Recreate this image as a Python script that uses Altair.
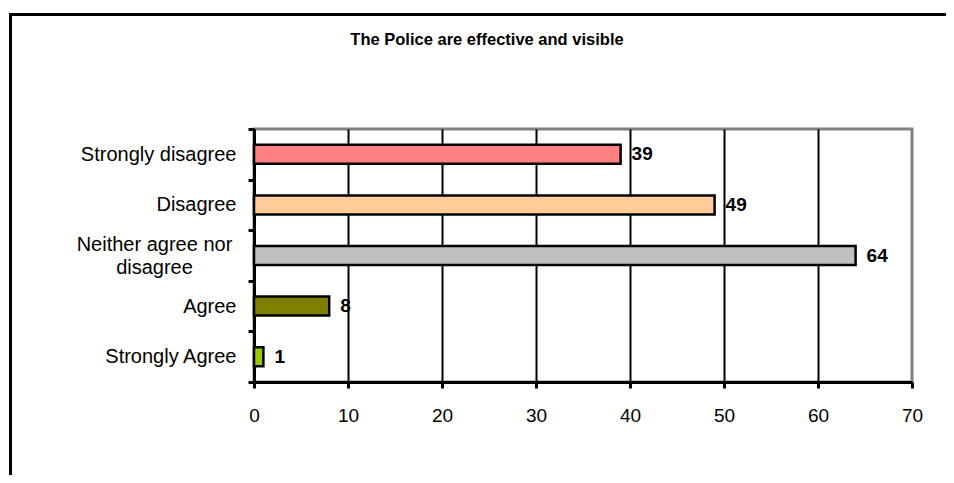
import altair as alt
import pandas as pd

categories = ["Strongly disagree", "Disagree", "Neither agree nor disagree", "Agree", "Strongly Agree"]
values = [39, 49, 64, 8, 1]
colors = ["#FF8080", "#FFCC99", "#C0C0C0", "#808000", "#99CC00"]
x_ticks = [0, 10, 20, 30, 40, 50, 60, 70]
title_text = "The Police are effective and visible"

df = pd.DataFrame({"category": categories, "value": values})

FONT = "Liberation Sans"
WRAP = "datum.value == 'Neither agree nor disagree'"

y_enc = alt.Y(
    "category:N",
    sort=categories,
    scale=alt.Scale(paddingInner=0, paddingOuter=0),
    axis=alt.Axis(
        title=None,
        tickBand="extent",
        tickSize=6,
        tickWidth=3,
        tickColor="black",
        domainColor="black",
        domainWidth=3,
        labelFont=FONT,
        labelFontSize=20,
        labelColor="black",
        labelLimit=300,
        labelLineHeight=23,
        labelAlign=alt.condition(WRAP, alt.value("center"), alt.value("right")),
        labelPadding=alt.condition(WRAP, alt.value(94), alt.value(12)),
        labelOffset=alt.condition(WRAP, alt.value(-11.5), alt.value(0)),
        labelExpr="datum.value == 'Neither agree nor disagree' ? ['Neither agree nor', 'disagree'] : datum.value",
        grid=False,
    ),
)

x_enc = alt.X(
    "value:Q",
    scale=alt.Scale(domain=[0, 70], nice=False),
    axis=alt.Axis(
        title=None,
        values=x_ticks,
        tickSize=6,
        tickWidth=3,
        tickColor="black",
        domainColor="black",
        domainWidth=3,
        labelFont=FONT,
        labelFontSize=19,
        labelColor="black",
        labelPadding=18,
        labelFlush=False,
        grid=True,
        gridWidth=2,
        gridColor=alt.condition("datum.value == 70", alt.value("transparent"), alt.value("black")),
    ),
)

bars = alt.Chart(df).mark_bar(size=19, stroke="black", strokeWidth=2.5).encode(
    x=x_enc,
    y=y_enc,
    color=alt.Color("category:N", scale=alt.Scale(domain=categories, range=colors), legend=None),
)

labels = alt.Chart(df).mark_text(
    align="left", baseline="middle", dx=11, font=FONT, fontSize=19, fontWeight="bold", color="black"
).encode(
    x="value:Q",
    y=alt.Y("category:N", sort=categories),
    text="value:Q",
)

title = alt.Chart(alt.Data(values=[{"t": title_text}])).mark_text(
    align="center", baseline="middle", font=FONT, fontSize=16.5, fontWeight="bold", color="black"
).encode(
    x=alt.value(233),
    y=alt.value(-89),
    text="t:N",
)

frame = alt.Chart(alt.Data(values=[{}])).mark_rect(
    fill=None, stroke="black", strokeWidth=3, fillOpacity=0
).encode(
    x=alt.value(-243.5),
    x2=alt.value(900),
    y=alt.value(-114.5),
    y2=alt.value(500),
)

chart = alt.layer(bars, labels, title, frame).properties(
    width=658,
    height=253,
    padding={"left": 246, "top": 121, "right": 34, "bottom": 93},
    autosize=alt.AutoSizeParams(type="none"),
    background="#fffffd",
).configure_view(
    fill="white",
    stroke="#808080",
    strokeWidth=3,
)

chart.save("out.html", embed_options={"renderer": "svg", "actions": False})
